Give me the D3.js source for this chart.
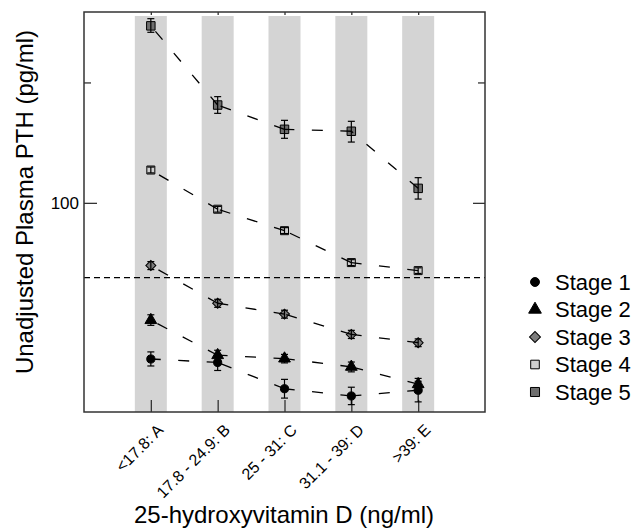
<!DOCTYPE html>
<html>
<head>
<meta charset="utf-8">
<script src="https://cdn.jsdelivr.net/npm/d3@7"></script>
<style>
  body { margin: 0; background: #fff; }
  text { font-family: "Liberation Sans", Arial, sans-serif; }
</style>
</head>
<body>
<div id="chart"></div>
<script>
// categories of 25-hydroxyvitamin D
var categories = ["<17.8: A", "17.8 - 24.9: B", "25 - 31: C", "31.1 - 39: D", ">39: E"];
var stages = ["Stage 1", "Stage 2", "Stage 3", "Stage 4", "Stage 5"];

// mean PTH per category, and error bar ends (pg/ml)
var stage1 = [40.7, 39.9, 34.3, 32.9, 34.0];
var stage1Lo = [39.1, 38.1, 32.5, 31.3, 31.8];
var stage1Hi = [42.4, 41.8, 36.2, 34.6, 35.8];

var stage2 = [50.9, 41.6, 40.8, 38.9, 35.2];
var stage2Lo = [49.4, 40.4, 39.8, 37.8, 34.0];
var stage2Hi = [52.5, 42.8, 41.8, 40.0, 36.4];

var stage3 = [69.7, 56.1, 52.7, 46.9, 44.7];
var stage3Lo = [68.1, 54.8, 51.5, 45.8, 43.7];
var stage3Hi = [71.3, 57.4, 53.9, 48.0, 45.7];

var stage4 = [120.8, 96.4, 85.2, 70.9, 67.7];
var stage4Lo = [118.8, 94.8, 83.8, 69.7, 66.6];
var stage4Hi = [122.9, 98.0, 86.7, 72.1, 68.8];

var stage5 = [277, 175.6, 152.7, 151.0, 108.7];
var stage5Lo = [266.9, 167.4, 145.0, 141.9, 102.2];
var stage5Hi = [288.7, 184.3, 160.8, 159.9, 115.6];

var refLine = 65;          // dashed reference level
var yMajorTicks = [100];
var yMinorTicks = [200];

var means = [stage1, stage2, stage3, stage4, stage5];
var lows = [stage1Lo, stage2Lo, stage3Lo, stage4Lo, stage5Lo];
var highs = [stage1Hi, stage2Hi, stage3Hi, stage4Hi, stage5Hi];

var symbols = [d3.symbolCircle, d3.symbolTriangle, d3.symbolSquare, d3.symbolSquare, d3.symbolSquare];
var symSize = [52, 60, 50, 64, 72];
var symRot = [0, 0, 45, 0, 0];
var fills = ["#000", "#000", "#7c7c7c", "#cfcfcf", "#6e6e6e"];

var W = 636, H = 530;
var mLeft = 84, mRight = 485, mTop = 12, mBottom = 412;

var svg = d3.select("#chart").append("svg")
  .attr("width", W)
  .attr("height", H);

var x = d3.scaleLinear().domain([0, 6]).range([mLeft, mRight]);
var y = d3.scaleLog().domain([30, 300]).range([mBottom, mTop]);
var idx = d3.range(1, categories.length + 1);

// grey bands behind each category
svg.selectAll("rect.band")
  .data(idx)
  .enter()
  .append("rect")
    .attr("class", "band")
    .attr("x", d => x(d) - 16)
    .attr("y", mTop + 4)
    .attr("width", 32)
    .attr("height", mBottom - mTop - 4)
    .attr("fill", "#d4d4d4");

// reference dashed line
svg.append("line")
  .attr("x1", mLeft).attr("x2", mRight)
  .attr("y1", y(refLine)).attr("y2", y(refLine))
  .attr("stroke", "#000")
  .attr("stroke-width", 1.2)
  .attr("stroke-dasharray", "6,4");

// axes (ticks point inwards)
function styleAxis(g) {
  g.select(".domain").remove();
  g.selectAll(".tick line").attr("stroke", "#333").attr("stroke-width", 1.3);
}

svg.append("g")
  .attr("transform", "translate(" + mLeft + ",0)")
  .call(d3.axisLeft(y).tickValues(yMajorTicks).tickSize(-13).tickPadding(5).tickFormat(d3.format("d")))
  .call(styleAxis)
  .selectAll("text").attr("font-size", "17px").attr("fill", "#000");

svg.append("g")
  .attr("transform", "translate(" + mLeft + ",0)")
  .call(d3.axisLeft(y).tickValues(yMinorTicks).tickSize(-7).tickFormat(""))
  .call(styleAxis);

svg.append("g")
  .attr("transform", "translate(" + mRight + ",0)")
  .call(d3.axisRight(y).tickValues(yMajorTicks).tickSize(-12).tickFormat(""))
  .call(styleAxis);

svg.append("g")
  .attr("transform", "translate(" + mRight + ",0)")
  .call(d3.axisRight(y).tickValues(yMinorTicks).tickSize(-7).tickFormat(""))
  .call(styleAxis);

svg.append("g")
  .attr("transform", "translate(0," + mTop + ")")
  .call(d3.axisTop(x).tickValues(idx).tickSize(-3).tickFormat(""))
  .call(styleAxis);

var xAxis = svg.append("g")
  .attr("transform", "translate(0," + mBottom + ")")
  .call(d3.axisBottom(x).tickValues(idx).tickSize(-12).tickFormat(d => categories[d - 1]))
  .call(styleAxis);

xAxis.selectAll("text")
  .attr("font-size", "16px")
  .attr("fill", "#000")
  .attr("text-anchor", "end")
  .attr("y", 0)
  .attr("dy", "0")
  .attr("transform", "translate(13,19) rotate(-45)");

// frame
svg.append("rect")
  .attr("x", mLeft).attr("y", mTop)
  .attr("width", mRight - mLeft).attr("height", mBottom - mTop)
  .attr("fill", "none")
  .attr("stroke", "#333")
  .attr("stroke-width", 1.5);

// markers
means.forEach(function(vals, s) {
  svg.append("g").selectAll("path")
    .data(vals)
    .enter()
    .append("path")
      .attr("d", d3.symbol().type(symbols[s]).size(symSize[s]))
      .attr("transform", (d, i) => "translate(" + x(i + 1) + "," + y(d) + ") rotate(" + symRot[s] + ")")
      .attr("fill", fills[s])
      .attr("stroke", "#000")
      .attr("stroke-width", 1);
});

// error bars
means.forEach(function(vals, s) {
  var g = svg.append("g").attr("stroke", "#000").attr("stroke-width", 1.2);
  vals.forEach(function(v, i) {
    var cx = x(i + 1);
    g.append("line").attr("x1", cx).attr("x2", cx).attr("y1", y(lows[s][i])).attr("y2", y(highs[s][i]));
    g.append("line").attr("x1", cx - 3.5).attr("x2", cx + 3.5).attr("y1", y(lows[s][i])).attr("y2", y(lows[s][i]));
    g.append("line").attr("x1", cx - 3.5).attr("x2", cx + 3.5).attr("y1", y(highs[s][i])).attr("y2", y(highs[s][i]));
  });
});

// dashed connecting lines, each segment drawn from its right end
means.forEach(function(vals, s) {
  for (var i = vals.length - 1; i > 0; i--) {
    svg.append("line")
      .attr("x1", x(i + 1)).attr("y1", y(vals[i]))
      .attr("x2", x(i)).attr("y2", y(vals[i - 1]))
      .attr("stroke", "#000")
      .attr("stroke-width", 1.3)
      .attr("stroke-dasharray", "11,17.5");
  }
});

// axis titles
svg.append("text")
  .attr("transform", "translate(33,202) rotate(-90)")
  .attr("text-anchor", "middle")
  .attr("font-size", "24px")
  .text("Unadjusted Plasma PTH (pg/ml)");

svg.append("text")
  .attr("x", 284)
  .attr("y", 523)
  .attr("text-anchor", "middle")
  .attr("font-size", "24px")
  .text("25-hydroxyvitamin D (ng/ml)");

// legend
var legend = svg.selectAll("g.legend")
  .data(stages)
  .enter()
  .append("g")
    .attr("class", "legend")
    .attr("transform", (d, i) => "translate(535," + (282 + i * 27.5) + ")");

legend.append("path")
  .attr("d", (d, i) => d3.symbol().type(symbols[i]).size(symSize[i] + 10)())
  .attr("transform", (d, i) => "rotate(" + symRot[i] + ")")
  .attr("fill", (d, i) => fills[i])
  .attr("stroke", "#000")
  .attr("stroke-width", 1);

legend.append("text")
  .attr("x", 20)
  .attr("dy", "0.36em")
  .attr("font-size", "22px")
  .text(d => d);
</script>
</body>
</html>
